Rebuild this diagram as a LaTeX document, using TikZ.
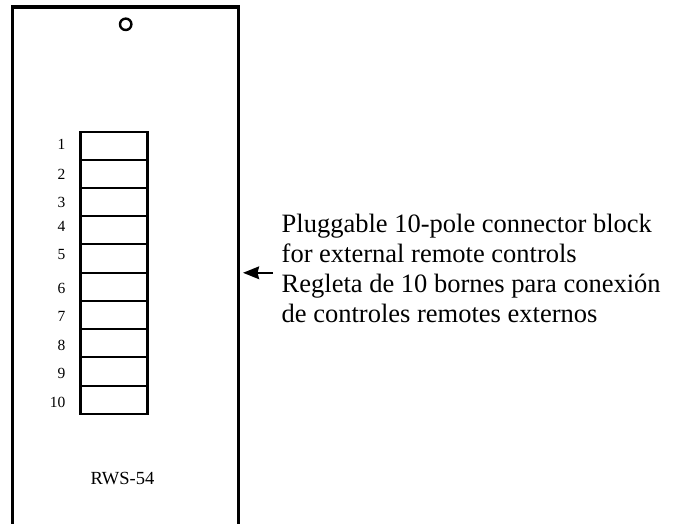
\documentclass[tikz,border=0pt]{standalone}
\usepackage{fontspec}
\setmainfont{Liberation Serif}
\usetikzlibrary{arrows.meta}
\tikzset{
  x=1pt,y=-1pt,
  wallline/.style={line width=3.4pt,line cap=butt},
  cellbox/.style={draw,line width=2.8pt,rectangle,anchor=north west,minimum width=67pt,inner sep=0pt,outer sep=0pt},
  pinlabel/.style={font=\fontsize{15.5}{15.5}\selectfont,anchor=east,inner sep=0pt},
  captext/.style={font=\fontsize{26.5}{26.5}\selectfont,anchor=base west,inner sep=0pt},
  pointerline/.style={line width=2.6pt,-{Stealth[length=16pt,width=12.5pt,inset=1.5pt]}}
}
\newcommand{\cellat}[4]{\node[cellbox,minimum height=#3pt] (c#1) at (80.5,#2) {};\node[pinlabel] (n#1) at (65.5,#4) {#1};}
\begin{document}
\begin{tikzpicture}
\useasboundingbox (0,0) rectangle (677,524);
\fill[white] (0,0) rectangle (677,524);
\coordinate (bl) at (12.5,524);
\coordinate (tl) at (12.5,7);
\coordinate (tr) at (238.5,7);
\coordinate (br) at (238.5,524);
\draw[wallline] (bl) -- (12.5,5);
\draw[wallline] (br) -- (238.5,5);
\draw[wallline] (tl) -- (tr);
\node[draw,circle,line width=2.4pt,minimum size=11.4pt,inner sep=0pt,outer sep=0pt] (hole) at (125.7,24.3) {};
\cellat{1}{132}{28}{144}
\cellat{2}{160}{28}{174}
\cellat{3}{188}{28}{202}
\cellat{4}{216}{28}{226}
\cellat{5}{244}{29}{254}
\cellat{6}{273}{28}{288}
\cellat{7}{301}{28}{316}
\cellat{8}{329}{28}{345}
\cellat{9}{357}{29}{373}
\cellat{10}{386}{28}{402}
\node[font=\fontsize{18.5}{18.5}\selectfont,inner sep=0pt] (model) at (122.5,479) {RWS-54};
\node[captext] (l1) at (281.5,232) {Pluggable 10-pole connector block};
\node[captext] (l2) at (281.5,262) {for external remote controls};
\node[captext] (l3) at (281.5,292.5) {Regleta de 10 bornes para conexión};
\node[captext] (l4) at (281.5,322.5) {de controles remotes externos};
\coordinate (tail) at (273,272.8);
\coordinate (tip) at (243,272.8);
\draw[pointerline] (tail) -- (tip);
\end{tikzpicture}
\end{document}
